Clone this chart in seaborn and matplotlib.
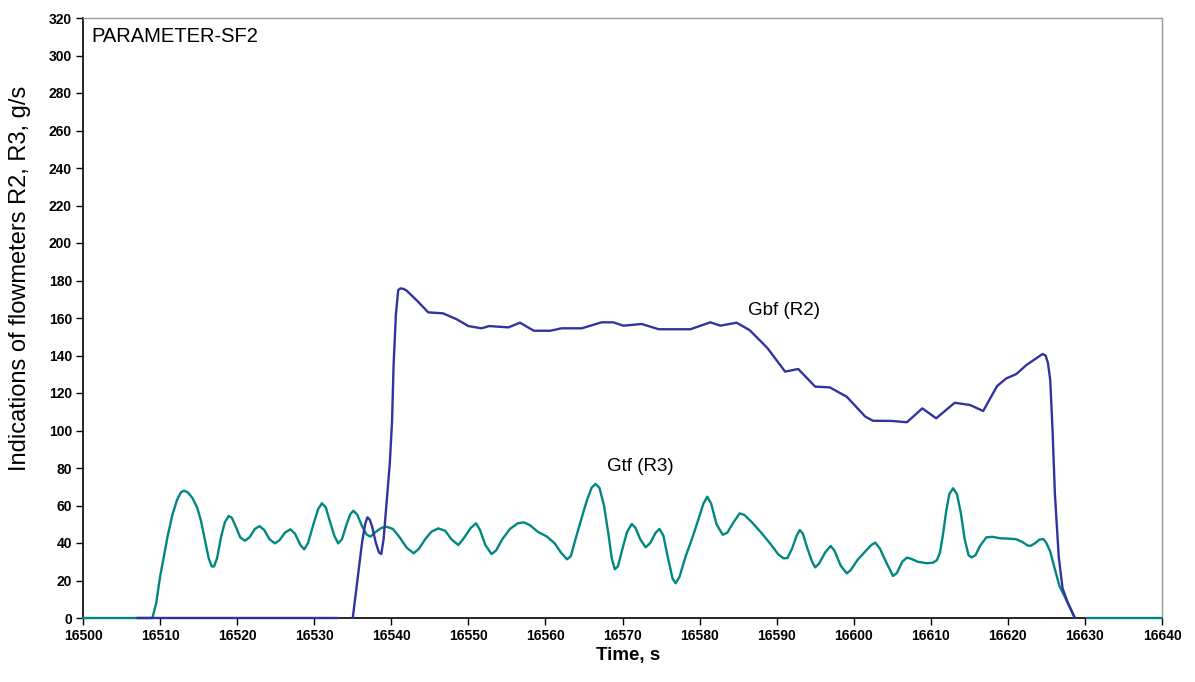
import numpy as np
import pandas as pd
import matplotlib
matplotlib.use("Agg")
import matplotlib.pyplot as plt
import seaborn as sns

# ---- data ----
gtf_time = [16500, 16509.0, 16509.5, 16510.0, 16510.5, 16511.0, 16511.6, 16512.2, 16512.7, 16513.1,
            16513.6, 16514.2, 16514.8, 16515.3, 16515.8, 16516.3, 16516.7, 16517.0, 16517.4, 16517.9,
            16518.4, 16518.9, 16519.3, 16519.8, 16520.4, 16521.0, 16521.6, 16522.3, 16522.9, 16523.5,
            16524.2, 16524.9, 16525.5, 16526.2, 16526.9, 16527.5, 16528.2, 16528.7, 16529.2, 16529.9,
            16530.5, 16531.0, 16531.5, 16532.0, 16532.6, 16533.1, 16533.6, 16534.2, 16534.7, 16535.1,
            16535.6, 16536.2, 16536.8, 16537.3, 16538.0, 16538.7, 16539.4, 16540.2, 16541.0, 16542.0,
            16542.9, 16543.6, 16544.4, 16545.2, 16546.1, 16547.0, 16547.8, 16548.7, 16549.4, 16550.3,
            16551.0, 16551.5, 16552.2, 16553.0, 16553.6, 16554.4, 16555.4, 16556.4, 16557.2, 16558.0,
            16559.0, 16560.2, 16561.2, 16562.0, 16562.8, 16563.3, 16563.9, 16564.6, 16565.4, 16566.0,
            16566.5, 16567.0, 16567.6, 16568.2, 16568.6, 16569.0, 16569.4, 16570.0, 16570.6, 16571.2,
            16571.7, 16572.3, 16573.0, 16573.6, 16574.3, 16574.8, 16575.3, 16575.9, 16576.5, 16576.9,
            16577.4, 16578.2, 16579.0, 16579.8, 16580.5, 16581.0, 16581.5, 16582.2, 16583.0, 16583.6,
            16584.4, 16585.2, 16585.8, 16586.8, 16588.0, 16589.2, 16590.2, 16590.9, 16591.4, 16592.0,
            16592.6, 16593.0, 16593.4, 16594.0, 16594.6, 16595.0, 16595.5, 16596.3, 16597.0, 16597.5,
            16598.3, 16599.1, 16599.6, 16600.5, 16601.5, 16602.3, 16602.8, 16603.4, 16604.3, 16605.1,
            16605.6, 16606.3, 16606.9, 16607.5, 16608.3, 16609.5, 16610.3, 16610.8, 16611.2, 16611.6,
            16612.0, 16612.4, 16612.9, 16613.4, 16613.9, 16614.4, 16614.9, 16615.3, 16615.8, 16616.4,
            16617.2, 16618.0, 16619.0, 16620.2, 16621.1, 16621.9, 16622.5, 16622.9, 16623.5, 16624.1,
            16624.6, 16625.0, 16625.5, 16626.1, 16626.7, 16627.3, 16628.0, 16628.7]
gtf_value = [0, 0, 8, 22, 33, 44, 55, 63, 67, 67.9,
             67, 64, 59, 52, 42, 32, 27.5, 27.5, 32, 43,
             51, 54.4, 53.5, 49, 43, 41.2, 43, 47.5, 49, 47,
             42, 39.8, 41.5, 45.5, 47.3, 45, 39, 36.6, 40, 50,
             58, 61.2, 59, 52, 44, 39.8, 42, 50, 55.5, 57.2,
             55, 49, 44.5, 43.4, 46, 48, 48.7, 47.5, 43.5, 37.5,
             34.5, 37, 42, 46, 47.8, 46.5, 42, 38.9, 42.5, 48,
             50.5, 47, 39, 34.1, 36, 42, 47.5, 50.5, 51, 49.5,
             46, 43.4, 39.8, 35, 31.3, 33, 42, 52, 63, 69.5,
             71.5, 69.5, 60, 44, 32, 26, 27.5, 37, 46, 50.1,
             48, 42, 37.7, 40, 45.5, 47.5, 44, 32, 21, 18.5,
             22, 33, 42, 52, 61, 64.7, 61, 50, 44.4, 45.5,
             51, 55.8, 55, 51, 45.5, 39.5, 34, 31.8, 32, 37,
             44, 46.9, 45, 37, 30, 27, 29, 35, 38.4, 36,
             28, 23.8, 25.5, 31, 35.5, 39, 40.2, 37, 29, 22.4,
             24, 30, 32.2, 31.5, 30, 29.2, 29.5, 30.9, 35, 45,
             57, 66, 69.2, 66, 56, 42, 33.5, 32.3, 33.5, 38.5,
             43, 43.3, 42.5, 42.3, 42, 40.5, 38.8, 38.4, 39.8, 41.8,
             42.1, 40, 35.4, 26, 17, 12, 6, 0]
gtf_tail_time = [16630.3, 16640]
gtf_tail_value = [0, 0]

gbf_zero_time = [16507, 16533.1]
gbf_zero_value = [0, 0]
gbf_time = [16535.0, 16535.6, 16536.2, 16536.6, 16536.9, 16537.2, 16537.5, 16538.0, 16538.4, 16538.7,
            16539.0, 16539.4, 16539.8, 16540.1, 16540.3, 16540.6, 16540.9, 16541.2, 16541.6, 16542.0,
            16543.4, 16544.8, 16546.7, 16548.5, 16550.0, 16551.7, 16552.7, 16555.2, 16556.7, 16558.5,
            16560.6, 16562.1, 16564.7, 16567.3, 16568.8, 16570.1, 16572.5, 16574.7, 16578.8, 16581.4,
            16582.7, 16584.8, 16586.5, 16588.8, 16591.1, 16592.8, 16595.0, 16596.9, 16599.1, 16601.5,
            16602.5, 16604.9, 16606.9, 16608.9, 16610.7, 16613.1, 16615.1, 16616.8, 16618.6, 16619.8,
            16621.1, 16622.4, 16624.5, 16624.9, 16625.2, 16625.5, 16625.8, 16626.1, 16626.6, 16627.1,
            16627.8, 16628.7]
gbf_value = [0, 20, 40, 50, 53.7, 52.5, 49, 40, 35, 34.1,
             42, 62, 82, 105, 135, 162, 174.9, 175.8, 175.5, 174.6,
             169, 163, 162.5, 159.3, 155.7, 154.5, 155.7, 155, 157.5, 153.2,
             153.2, 154.5, 154.5, 157.7, 157.7, 155.9, 156.8, 154, 154, 157.7,
             155.9, 157.5, 153.5, 144, 131.4, 132.8, 123.4, 123, 118, 107.4,
             105.2, 105.1, 104.4, 111.8, 106.5, 114.8, 113.6, 110.4, 123.7, 127.8,
             130.1, 134.9, 140.8, 140, 136, 126.9, 100, 66.5, 32.7, 15.8,
             8, 0]

x_ticks = list(range(16500, 16641, 10))
y_ticks = list(range(0, 321, 20))

teal = "#00877F"
navy = "#3333A0"

sns.set_theme(style="white")
plt.rcParams['font.family'] = ['Liberation Sans', 'DejaVu Sans']
plt.rcParams['text.color'] = 'black'
plt.rcParams['axes.labelcolor'] = 'black'
plt.rcParams['xtick.color'] = 'black'
plt.rcParams['ytick.color'] = 'black'

fig = plt.figure(figsize=(11.95, 6.82), dpi=100)
ax = fig.add_axes([83 / 1195, 64 / 682, 1079 / 1195, 600 / 682])

lw = 1.7
sns.lineplot(x=gtf_time, y=gtf_value, ax=ax, color=teal, lw=lw, sort=False, estimator=None)
sns.lineplot(x=gtf_tail_time, y=gtf_tail_value, ax=ax, color=teal, lw=lw, sort=False, estimator=None)
sns.lineplot(x=gbf_zero_time, y=gbf_zero_value, ax=ax, color=navy, lw=lw, sort=False, estimator=None)
sns.lineplot(x=gbf_time, y=gbf_value, ax=ax, color=navy, lw=lw, sort=False, estimator=None)
for ln in ax.lines:
    ln.set_clip_on(False)
    ln.set_zorder(3)
    ln.set_solid_joinstyle('round')

ax.set_xlim(16500, 16640)
ax.set_ylim(0, 320)
ax.set_xticks(x_ticks)
ax.set_yticks(y_ticks)
ax.set_xticklabels([str(v) for v in x_ticks], fontsize=10, fontweight='bold', color='black')
ax.set_yticklabels([str(v) for v in y_ticks], fontsize=10, fontweight='bold', color='black')
ax.tick_params(axis='both', direction='out', length=5, width=1, color='black', pad=3,
               bottom=True, left=True)

for side in ['left', 'bottom']:
    ax.spines[side].set_color('black')
    ax.spines[side].set_linewidth(1.2)
    ax.spines[side].set_zorder(2)
for side in ['top', 'right']:
    ax.spines[side].set_color('#9a9a9a')
    ax.spines[side].set_linewidth(1.0)

ax.set_xlabel("Time, s", fontsize=13.5, fontweight='bold', color='black')
ax.xaxis.set_label_coords((628 - 83) / 1079, -(647 - 618) / 600)
ax.set_ylabel("Indications of flowmeters R2, R3, g/s", fontsize=17, fontweight='normal',
              color='black')
ax.yaxis.set_label_coords(-(83 - 31) / 1079, (618 - 278) / 600)

ax.text(0.008, 0.985, "PARAMETER-SF2", transform=ax.transAxes, fontsize=14.5,
        ha='left', va='top', color='black')
ax.text(16586.3, 164.0, "Gbf (R2)", fontsize=13.5, ha='left', va='center', color='black')
ax.text(16568.0, 81, "Gtf (R3)", fontsize=13.5, ha='left', va='center', color='black')

fig.savefig("out.png", dpi=100)
